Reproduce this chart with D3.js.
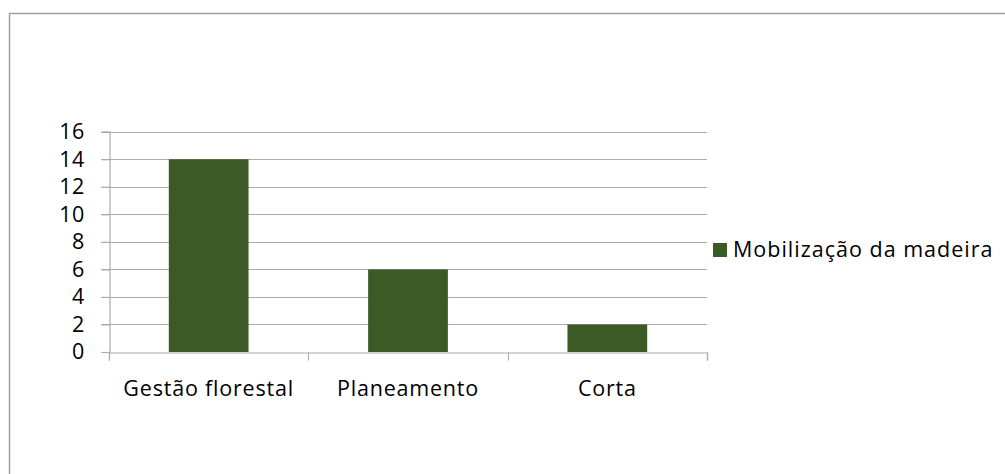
<!DOCTYPE html>
<html><head><meta charset="utf-8">
<script src="https://cdn.jsdelivr.net/npm/d3@7"></script>
<style>body{margin:0;background:#fff}svg{display:block}text{font-family:"Open Sans",sans-serif;fill:#000}</style>
</head><body>
<script>
const categories = ["Gestão florestal", "Planeamento", "Corta"];
const values = [14, 6, 2];
const seriesName = "Mobilização da madeira";
const yTicks = [0, 2, 4, 6, 8, 10, 12, 14, 16];

const W = 1005, H = 474;
const FS = "21.5px", LS = "0.8px";
const svg = d3.select("body").append("svg").attr("width", W).attr("height", H);
svg.append("rect").attr("x", 9.5).attr("y", 13.5).attr("width", W + 10).attr("height", H + 10)
  .attr("fill", "#fff").attr("stroke", "#a0a0a0").attr("stroke-width", 1.5);

const x = d3.scaleBand().domain(categories).range([109, 707]).paddingInner(0).paddingOuter(0);
const y = d3.scaleLinear().domain([0, 16]).range([352, 131.7]);
const grid = "#acacac";

// gridlines
svg.append("g").selectAll("line").data(yTicks.filter(d => d > 0)).join("line")
  .attr("x1", 101).attr("x2", 707).attr("y1", d => Math.round(y(d)) + 0.5).attr("y2", d => Math.round(y(d)) + 0.5)
  .attr("stroke", grid).attr("stroke-width", 1.2);

// bars
const bw = x.bandwidth() * 0.4;
svg.append("g").selectAll("rect").data(values).join("rect")
  .attr("x", (d, i) => x(categories[i]) + (x.bandwidth() - bw) / 2)
  .attr("width", bw)
  .attr("y", d => y(d)).attr("height", d => y(0) - y(d))
  .attr("fill", "#3b5a25");

// y axis
const yAxis = d3.axisLeft(y).tickValues(yTicks).tickSize(8).tickPadding(17);
const gy = svg.append("g").attr("transform", "translate(109.5,0)").call(yAxis);
gy.selectAll("path,line").attr("stroke", grid).attr("stroke-width", 1.2);
gy.selectAll("text").style("font-size", FS).style("letter-spacing", "0.3px").style("font-family", '"Open Sans",sans-serif').attr("fill", "#000");

// x axis
const xAxis = d3.axisBottom(x).tickSize(8).tickSizeOuter(8).tickPadding(20);
const gx = svg.append("g").attr("transform", "translate(0,352.5)").call(xAxis);
gx.selectAll("path,line").attr("stroke", grid).attr("stroke-width", 1.2);
gx.selectAll(".tick line").remove();
gx.selectAll(".tick text").style("font-size", FS).style("letter-spacing", LS).style("font-family", '"Open Sans",sans-serif').attr("fill", "#000");
// category boundary ticks
const bounds = categories.map(c => x(c)).concat([x.range()[1]]);
gx.append("g").selectAll("line").data(bounds).join("line")
  .attr("x1", d => Math.round(d) + 0.5).attr("x2", d => Math.round(d) + 0.5)
  .attr("y1", 0).attr("y2", 8).attr("stroke", grid).attr("stroke-width", 1.2);

// legend
const lg = svg.append("g").attr("transform", "translate(713,243)");
lg.append("rect").attr("width", 14).attr("height", 14).attr("fill", "#3b5a25");
lg.append("text").attr("x", 20).attr("y", 14).style("font-size", FS).style("letter-spacing", "1px").text(seriesName);
</script>
</body></html>
